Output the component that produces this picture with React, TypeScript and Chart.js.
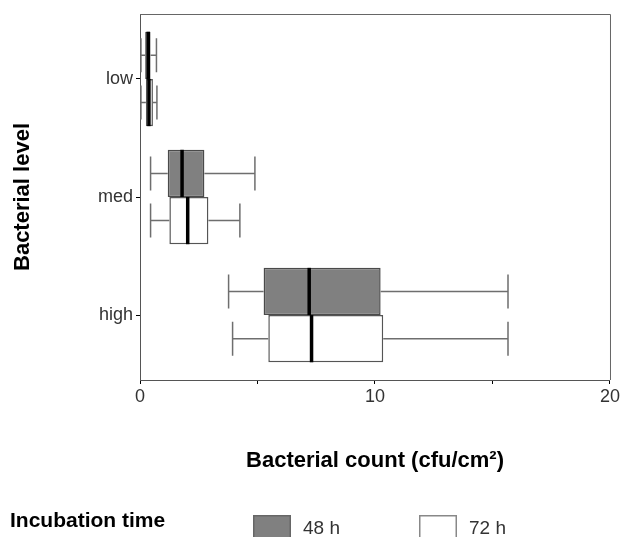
import React, { useEffect, useRef } from 'react';
import { Chart, registerables } from 'chart.js';

Chart.register(...registerables);

const levels = ['low', 'med', 'high'];
const seriesLabels = ['48 h', '72 h'];
// [min, q1, median, q3, max]
const box48 = [
  [0.04, 0.22, 0.35, 0.45, 0.7],
  [0.45, 1.18, 1.79, 2.74, 4.89],
  [3.77, 5.26, 7.2, 10.24, 15.66],
];
const box72 = [
  [0.04, 0.25, 0.38, 0.55, 0.72],
  [0.45, 1.25, 2.03, 2.91, 4.25],
  [3.94, 5.46, 7.3, 10.35, 15.66],
];
const xTickLabels = [0, 10, 20];
const xTitle = 'Bacterial count (cfu/cm²)';
const yTitle = 'Bacterial level';
const legendTitle = 'Incubation time';

const allStats = [box48, box72];
const FONT = '"Liberation Sans", Arial, sans-serif';

const boxPlugin = {
  id: 'boxWhisker',
  afterDatasetsDraw(chart: any) {
    const ctx = chart.ctx;
    const xs = chart.scales.x;
    const px = (v: number) => xs.getPixelForValue(v);
    chart.data.datasets.forEach((_ds: any, di: number) => {
      const meta = chart.getDatasetMeta(di);
      const stats = allStats[di];
      meta.data.forEach((bar: any, i: number) => {
        const { y, height } = bar.getProps(['y', 'height'], true);
        const [mn, q1, md, q3, mx] = stats[i];
        const half = height / 2;
        const cap = height * 0.36;
        ctx.save();
        ctx.strokeStyle = '#6e6e6e';
        ctx.lineWidth = 1.5;
        ctx.beginPath();
        ctx.moveTo(px(mn), y);
        ctx.lineTo(px(q1), y);
        ctx.moveTo(px(q3), y);
        ctx.lineTo(px(mx), y);
        ctx.moveTo(px(mn), y - cap);
        ctx.lineTo(px(mn), y + cap);
        ctx.moveTo(px(mx), y - cap);
        ctx.lineTo(px(mx), y + cap);
        ctx.stroke();
        ctx.strokeStyle = '#000';
        ctx.lineWidth = 3.5;
        ctx.beginPath();
        ctx.moveTo(px(md), y - half);
        ctx.lineTo(px(md), y + half);
        ctx.stroke();
        ctx.restore();
      });
    });
  },
};

const framePlugin = {
  id: 'frame',
  afterDraw(chart: any) {
    const { ctx, chartArea } = chart;
    ctx.save();
    ctx.strokeStyle = '#666';
    ctx.lineWidth = 1;
    ctx.beginPath();
    ctx.moveTo(chartArea.left, chartArea.top + 0.5);
    ctx.lineTo(chartArea.right + 0.5, chartArea.top + 0.5);
    ctx.lineTo(chartArea.right + 0.5, chartArea.bottom);
    ctx.stroke();
    ctx.restore();
  },
};

const legendPlugin = {
  id: 'bottomLegend',
  afterDraw(chart: any) {
    const ctx = chart.ctx;
    ctx.save();
    ctx.textBaseline = 'alphabetic';
    ctx.textAlign = 'left';
    ctx.font = `bold 21px ${FONT}`;
    ctx.fillStyle = '#000';
    ctx.fillText(legendTitle, 10, 527);
    const itemX = [253, 419];
    chart.data.datasets.forEach((ds: any, i: number) => {
      const x = itemX[i];
      ctx.fillStyle = ds.backgroundColor;
      ctx.fillRect(x, 515, 38, 30);
      ctx.strokeStyle = i === 0 ? '#666' : '#888';
      ctx.lineWidth = 1.5;
      ctx.strokeRect(x + 0.75, 515.75, 36.5, 30);
      ctx.font = `19px ${FONT}`;
      ctx.fillStyle = '#333';
      ctx.fillText(ds.label, x + 50, 534);
    });
    ctx.restore();
  },
};

export default function App() {
  const ref = useRef<HTMLCanvasElement>(null);
  useEffect(() => {
    if (!ref.current) return;
    Chart.defaults.font.family = FONT;
    const chart = new Chart(ref.current, {
      type: 'bar',
      data: {
        datasets: [
          {
            label: seriesLabels[0],
            data: box48.map((b, i) => ({ x: [b[1], b[3]], y: i })) as any,
            backgroundColor: '#808080',
            borderColor: '#4a4a4a',
            borderWidth: 1.5,
            borderSkipped: false,
            categoryPercentage: 0.8,
            barPercentage: 1,
          },
          {
            label: seriesLabels[1],
            data: box72.map((b, i) => ({ x: [b[1], b[3]], y: i })) as any,
            backgroundColor: '#ffffff',
            borderColor: '#555555',
            borderWidth: 1.5,
            borderSkipped: false,
            categoryPercentage: 0.8,
            barPercentage: 1,
          },
        ],
      },
      options: {
        indexAxis: 'y',
        animation: false,
        responsive: false,
        devicePixelRatio: 1,
        layout: { padding: { top: 14, right: 11, left: 0, bottom: 0 } },
        plugins: {
          legend: { display: false },
          tooltip: { enabled: false },
        },
        scales: {
          x: {
            type: 'linear',
            min: 0,
            max: 20,
            offset: false,
            afterFit: (s: any) => {
              s.height = 157;
            },
            ticks: {
              stepSize: 5,
              padding: 2,
              color: '#333',
              font: { size: 18 },
              maxRotation: 0,
              callback: (v: any) => (xTickLabels.includes(Number(v)) ? String(v) : ''),
            },
            grid: { display: true, offset: false, drawOnChartArea: false, drawTicks: true, tickLength: 4, color: '#000' },
            border: { display: true, color: '#555', width: 1 },
            title: {
              display: true,
              text: xTitle,
              color: '#000',
              font: { size: 22, weight: 'bold' },
              padding: { top: 0, bottom: 63 },
            },
          },
          y: {
            type: 'linear',
            reverse: true,
            min: -0.55,
            max: 2.55,
            offset: false,
            afterFit: (s: any) => {
              s.width = 140;
            },
            afterBuildTicks: (s: any) => {
              s.ticks = levels.map((_, i) => ({ value: i }));
            },
            ticks: {
              padding: 3,
              color: '#333',
              font: { size: 18 },
              autoSkip: false,
              callback: (v: any) => levels[Number(v)] ?? '',
            },
            grid: { display: true, offset: false, drawOnChartArea: false, drawTicks: true, tickLength: 4, color: '#000' },
            border: { display: true, color: '#555', width: 1 },
            title: {
              display: true,
              text: yTitle,
              color: '#000',
              font: { size: 22, weight: 'bold' },
              padding: { top: 10, bottom: 0 },
            },
          },
        },
      },
      plugins: [boxPlugin, framePlugin, legendPlugin],
    });
    return () => chart.destroy();
  }, []);
  return (
    <canvas
      ref={ref}
      width={622}
      height={537}
      style={{ position: 'fixed', left: 0, top: 0, width: 622, height: 537 }}
    />
  );
}
